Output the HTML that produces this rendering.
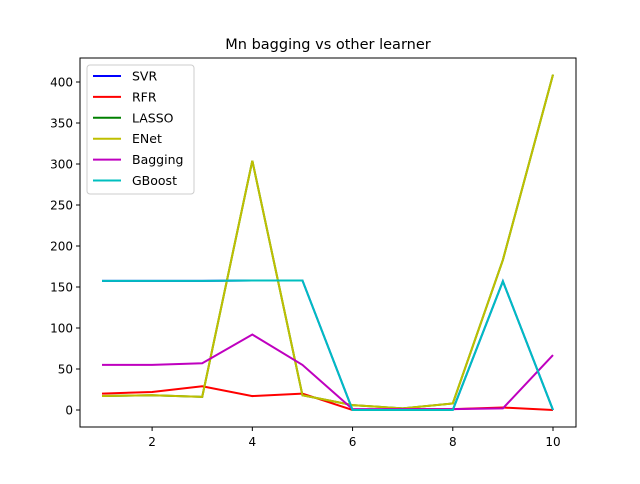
<!DOCTYPE html>
<html><head><meta charset="utf-8"><style>
body{margin:0;background:#fff;font-family:"DejaVu Sans","Liberation Sans",sans-serif}
svg text{font-family:"DejaVu Sans","Liberation Sans",sans-serif}
</style></head><body>
<svg id="chart" width="640" height="480">
<rect width="640" height="480" fill="#fff"/>
<text x="328" y="49" font-size="14.5" text-anchor="middle">Mn bagging vs other learner</text>
<g id="ticks"></g>
<g id="lines"></g>
<rect x="80" y="58" width="496" height="369" fill="none" stroke="#000" stroke-width="1"/>
<g id="legend"></g>
</svg>
<script>
const xs=[1,2,3,4,5,6,7,8,9,10];
const xTicks=[2,4,6,8,10];
const yTicks=[0,50,100,150,200,250,300,350,400];
const svr=[157.5,157.5,157.5,158,158,0,0,0,157,0];
const rfr=[20,22,29,17,20,0,1,1,3,0];
const lasso=[17,18,16,304,18,6,2,8,183,409];
const enet=[17,18,16,304,18,6,2,8,183,409];
const bagging=[55,55,57,92,55,1,1,1,2,67];
const gboost=[157.5,157.5,157.5,158,158,0,0,0,157,0];
const names=["SVR","RFR","LASSO","ENet","Bagging","GBoost"];
const colors=["#0000ff","#ff0000","#008000","#bfbf00","#bf00bf","#00bfbf"];
const series=[svr,rfr,lasso,enet,bagging,gboost];
const ns="http://www.w3.org/2000/svg";
const X=v=>102+(v-1)*(553-102)/9;
const Y=v=>410-v*(410-82)/400;
function mk(t,a,p){const e=document.createElementNS(ns,t);for(const k in a)e.setAttribute(k,a[k]);p.appendChild(e);return e;}
const tk=document.getElementById('ticks');
xTicks.forEach(v=>{const l=mk('line',{x1:X(v),x2:X(v),y1:427,y2:431,stroke:'#000'},tk);


const t=mk('text',{x:X(v),y:446,'font-size':12,'text-anchor':'middle'},tk);t.textContent=v;

});
yTicks.forEach(v=>{const l=mk('line',{x1:76,x2:80,y1:Y(v),y2:Y(v),stroke:'#000'},tk);


const t=mk('text',{x:73,y:Y(v)+4.5,'font-size':12,'text-anchor':'end'},tk);t.textContent=v;

});
const lg=document.getElementById('lines');
series.forEach((s,i)=>{const p=mk('polyline',{points:s.map((v,j)=>X(xs[j])+','+Y(v)).join(' '),fill:'none',stroke:colors[i],'stroke-width':2},lg);

});
const leg=document.getElementById('legend');
const box=mk('rect',{x:87,y:65,width:107,height:129,rx:3,fill:'#fff',stroke:'#ccc'},leg);


names.forEach((n,i)=>{const y=76+i*20.9;
mk('line',{x1:93,x2:121,y1:y,y2:y,stroke:colors[i],'stroke-width':2},leg);
const t=mk('text',{x:132,y:y+4.5,'font-size':12.5},leg);t.textContent=n;

});
</script>
</body></html>
